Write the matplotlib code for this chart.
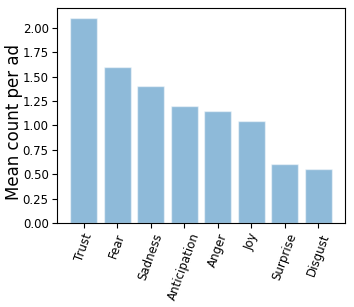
import matplotlib
matplotlib.use("Agg")
import matplotlib.pyplot as plt

categories = ["Trust", "Fear", "Sadness", "Anticipation", "Anger", "Joy", "Surprise", "Disgust"]
values = [2.10, 1.60, 1.40, 1.20, 1.15, 1.05, 0.60, 0.55]

fig = plt.figure(figsize=(3.54, 3.07), dpi=100)
ax = fig.add_axes([57/354, 1 - 223/307, 288/354, 215/307])
ax.bar(range(len(categories)), values, color="#1f77b4", alpha=0.5, edgecolor="white", linewidth=1)
ax.set_xticks(range(len(categories)))
ax.set_xticklabels(categories, rotation=70, fontsize=8.5)
ax.tick_params(axis="both", labelsize=8.5, pad=2.5)
ax.set_ylabel("Mean count per ad", fontsize=12)
ax.yaxis.set_label_coords(-0.118, 0.47)
ax.set_yticks([0, 0.25, 0.5, 0.75, 1.0, 1.25, 1.5, 1.75, 2.0])
fig.savefig("out.png", dpi=100)
